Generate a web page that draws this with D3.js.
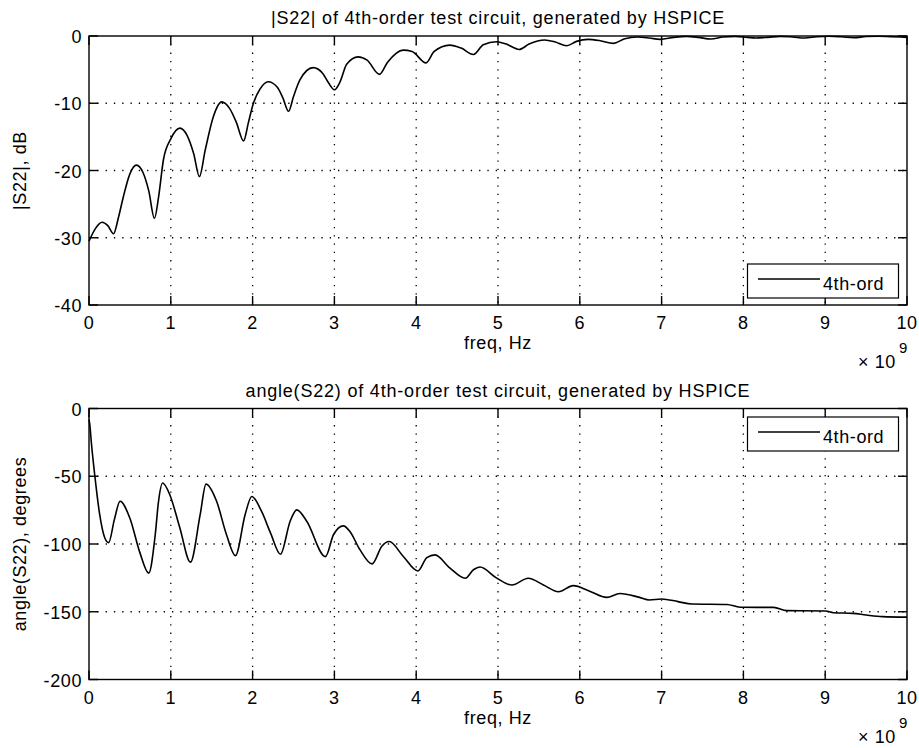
<!DOCTYPE html>
<html><head><meta charset="utf-8">
<script src="https://cdn.jsdelivr.net/npm/d3@7"></script>
<style>
html,body{margin:0;padding:0;background:#fff;}
svg{display:block;}
text{font-family:"Liberation Sans",Arial,Helvetica,sans-serif;fill:#000;}
</style></head>
<body>
<svg id="chart" width="919" height="748"></svg>
<script>
// ---------- DATA ----------
const xTicks = [0,1,2,3,4,5,6,7,8,9,10];           // freq, x 10^9 Hz
const magTicks = [0,-10,-20,-30,-40];
const angTicks = [0,-50,-100,-150,-200];

const magFreq = [0.00,0.08,0.16,0.23,0.30,0.36,0.42,0.50,0.58,0.66,0.73,0.80,0.85,0.91,1.00,1.11,1.20,1.28,1.35,1.42,1.52,1.62,1.72,1.80,1.89,1.95,2.01,2.09,2.19,2.30,2.37,2.44,2.50,2.58,2.74,2.86,2.92,3.00,3.07,3.15,3.29,3.40,3.55,3.65,3.84,3.95,4.12,4.22,4.41,4.55,4.70,4.82,4.98,5.10,5.26,5.38,5.57,5.70,5.84,5.96,6.10,6.25,6.41,6.55,6.70,6.85,6.98,7.15,7.30,7.45,7.60,7.75,7.90,8.05,8.15,8.30,8.45,8.60,8.75,8.90,9.05,9.20,9.35,9.50,9.65,9.80,10.0];
const magDB = [-30.5,-28.6,-27.7,-28.2,-29.4,-27.0,-23.9,-20.5,-19.2,-20.3,-23.0,-27.1,-24.0,-18.4,-15.3,-13.7,-14.8,-17.5,-20.9,-17.0,-12.0,-9.8,-10.8,-12.8,-15.6,-12.8,-10.0,-7.9,-6.8,-7.6,-9.2,-11.2,-9.0,-6.5,-4.7,-5.6,-6.8,-8.0,-6.8,-4.2,-3.1,-3.6,-5.7,-3.9,-2.1,-2.3,-4.0,-2.3,-1.35,-1.8,-2.75,-1.3,-0.85,-1.2,-2.0,-1.2,-0.6,-0.9,-1.45,-0.8,-0.5,-0.7,-1.1,-0.4,-0.15,-0.3,-0.5,-0.2,-0.05,-0.2,-0.45,-0.15,-0.05,-0.2,-0.3,-0.2,-0.05,-0.15,-0.3,-0.1,-0.03,-0.12,-0.25,-0.08,-0.03,-0.1,-0.2];

const angFreq = [0.00,0.01,0.03,0.07,0.13,0.19,0.24,0.31,0.38,0.50,0.62,0.73,0.81,0.85,0.90,0.99,1.11,1.24,1.36,1.43,1.56,1.68,1.79,1.91,1.99,2.11,2.22,2.34,2.46,2.54,2.66,2.89,2.99,3.11,3.19,3.31,3.46,3.58,3.67,3.84,4.02,4.13,4.23,4.41,4.60,4.70,4.78,4.98,5.17,5.37,5.55,5.74,5.92,6.12,6.33,6.49,6.73,6.85,7.00,7.20,7.37,7.80,7.96,8.37,8.53,9.00,9.10,9.34,9.50,9.70,10.0];
const angDeg = [-8,-12,-26,-49,-78,-95,-99,-82,-68.5,-81,-106,-121.5,-93,-68.5,-55,-64,-88,-113.4,-78,-55.8,-68.5,-93,-108.6,-78,-64.9,-76,-92,-107.6,-83,-74.8,-83,-109.3,-93,-86.6,-90.8,-104,-114.7,-101.6,-98.2,-109,-119.9,-110,-108,-117.6,-125.3,-119,-117,-125,-130.3,-125.3,-130,-135.2,-130.7,-134.8,-139.4,-136.5,-139.4,-141.3,-140.6,-142.5,-144.3,-144.6,-146.7,-146.8,-149.2,-149.4,-150.7,-151.2,-152.4,-153.6,-154];

const seriesName = "4th-ord";

// ---------- DRAW ----------
const svg = d3.select("#chart");
const L = 89, R = 907;
const FS = 18;

function panel(cfg){
  const x = d3.scaleLinear().domain([0,10]).range([L,R]);
  const y = d3.scaleLinear().domain([cfg.yTicks[cfg.yTicks.length-1], cfg.yTicks[0]]).range([cfg.bottom, cfg.top]);
  const g = svg.append("g");
  // grid
  const grid = g.append("g").attr("stroke","#000").attr("stroke-width",1.3).attr("stroke-dasharray","1.3,7");
  xTicks.slice(1,-1).forEach(t=>{
    grid.append("line").attr("x1",x(t)).attr("x2",x(t)).attr("y1",cfg.top).attr("y2",cfg.bottom);
  });
  cfg.yTicks.slice(1,-1).forEach(t=>{
    grid.append("line").attr("x1",L).attr("x2",R).attr("y1",y(t)).attr("y2",y(t));
  });
  // curve
  const line = d3.line().x(d=>x(d[0])).y(d=>y(d[1])).curve(d3.curveMonotoneX);
  const pts = cfg.fx.map((f,i)=>[f,cfg.fy[i]]);
  g.append("path").attr("d",line(pts)).attr("fill","none").attr("stroke","#000").attr("stroke-width",1.6).attr("stroke-linejoin","round");
  // box & ticks
  g.append("rect").attr("x",L).attr("y",cfg.top).attr("width",R-L).attr("height",cfg.bottom-cfg.top)
    .attr("fill","none").attr("stroke","#000").attr("stroke-width",1.4);
  const TL = 9;
  const tk = g.append("g").attr("stroke","#000").attr("stroke-width",1.4);
  xTicks.forEach(t=>{
    tk.append("line").attr("x1",x(t)).attr("x2",x(t)).attr("y1",cfg.bottom).attr("y2",cfg.bottom-TL);
    tk.append("line").attr("x1",x(t)).attr("x2",x(t)).attr("y1",cfg.top).attr("y2",cfg.top+TL);
  });
  cfg.yTicks.forEach(t=>{
    tk.append("line").attr("x1",L).attr("x2",L+TL).attr("y1",y(t)).attr("y2",y(t));
    tk.append("line").attr("x1",R).attr("x2",R-TL).attr("y1",y(t)).attr("y2",y(t));
  });
  // tick labels
  xTicks.forEach(t=>{
    g.append("text").attr("x",x(t)).attr("y",cfg.bottom+24).attr("text-anchor","middle")
      .attr("font-size",FS).attr("letter-spacing","0.6px").text(t);
  });
  cfg.yTicks.forEach(t=>{
    g.append("text").attr("x",82).attr("y",y(t)+7).attr("text-anchor","end")
      .attr("font-size",FS).attr("letter-spacing","0.6px").text(t);
  });
  // title
  g.append("text").attr("x",(L+R)/2).attr("y",cfg.top-12).attr("text-anchor","middle")
    .attr("font-size",FS).attr("letter-spacing","0.8px").text(cfg.title);
  // x label
  g.append("text").attr("x",(L+R)/2).attr("y",cfg.bottom+44).attr("text-anchor","middle")
    .attr("font-size",FS).attr("letter-spacing","0.6px").text("freq, Hz");
  // exponent
  const ex = g.append("text").attr("x",858).attr("y",cfg.bottom+63).attr("font-size",FS).attr("letter-spacing","0.6px");
  ex.append("tspan").text("\u00d7 10");
  ex.append("tspan").attr("dy",-15).attr("dx",3).attr("font-size",15).text("9");
  // y label
  const cy = (cfg.top+cfg.bottom)/2;
  g.append("text").attr("transform",`translate(${cfg.ylx},${cy}) rotate(-90)`).attr("text-anchor","middle")
    .attr("font-size",FS).attr("letter-spacing","0.6px").text(cfg.ylabel);
  // legend
  const lt = cfg.legTop;
  g.append("rect").attr("x",747.5).attr("y",lt).attr("width",151).attr("height",34)
    .attr("fill","#fff").attr("stroke","#000").attr("stroke-width",1.2);
  g.append("line").attr("x1",758).attr("x2",820).attr("y1",lt+15).attr("y2",lt+15).attr("stroke","#000").attr("stroke-width",1.6);
  g.append("text").attr("x",823).attr("y",lt+26).attr("font-size",FS).attr("letter-spacing","0.6px").text(seriesName);
}

panel({top:36,bottom:305,yTicks:magTicks,fx:magFreq,fy:magDB,
  title:"|S22| of 4th-order test circuit, generated by HSPICE",ylabel:"|S22|, dB",ylx:26,legTop:264});
panel({top:408.5,bottom:679.5,yTicks:angTicks,fx:angFreq,fy:angDeg,
  title:"angle(S22) of 4th-order test circuit, generated by HSPICE",ylabel:"angle(S22), degrees",ylx:26,legTop:417});
</script>
</body></html>
